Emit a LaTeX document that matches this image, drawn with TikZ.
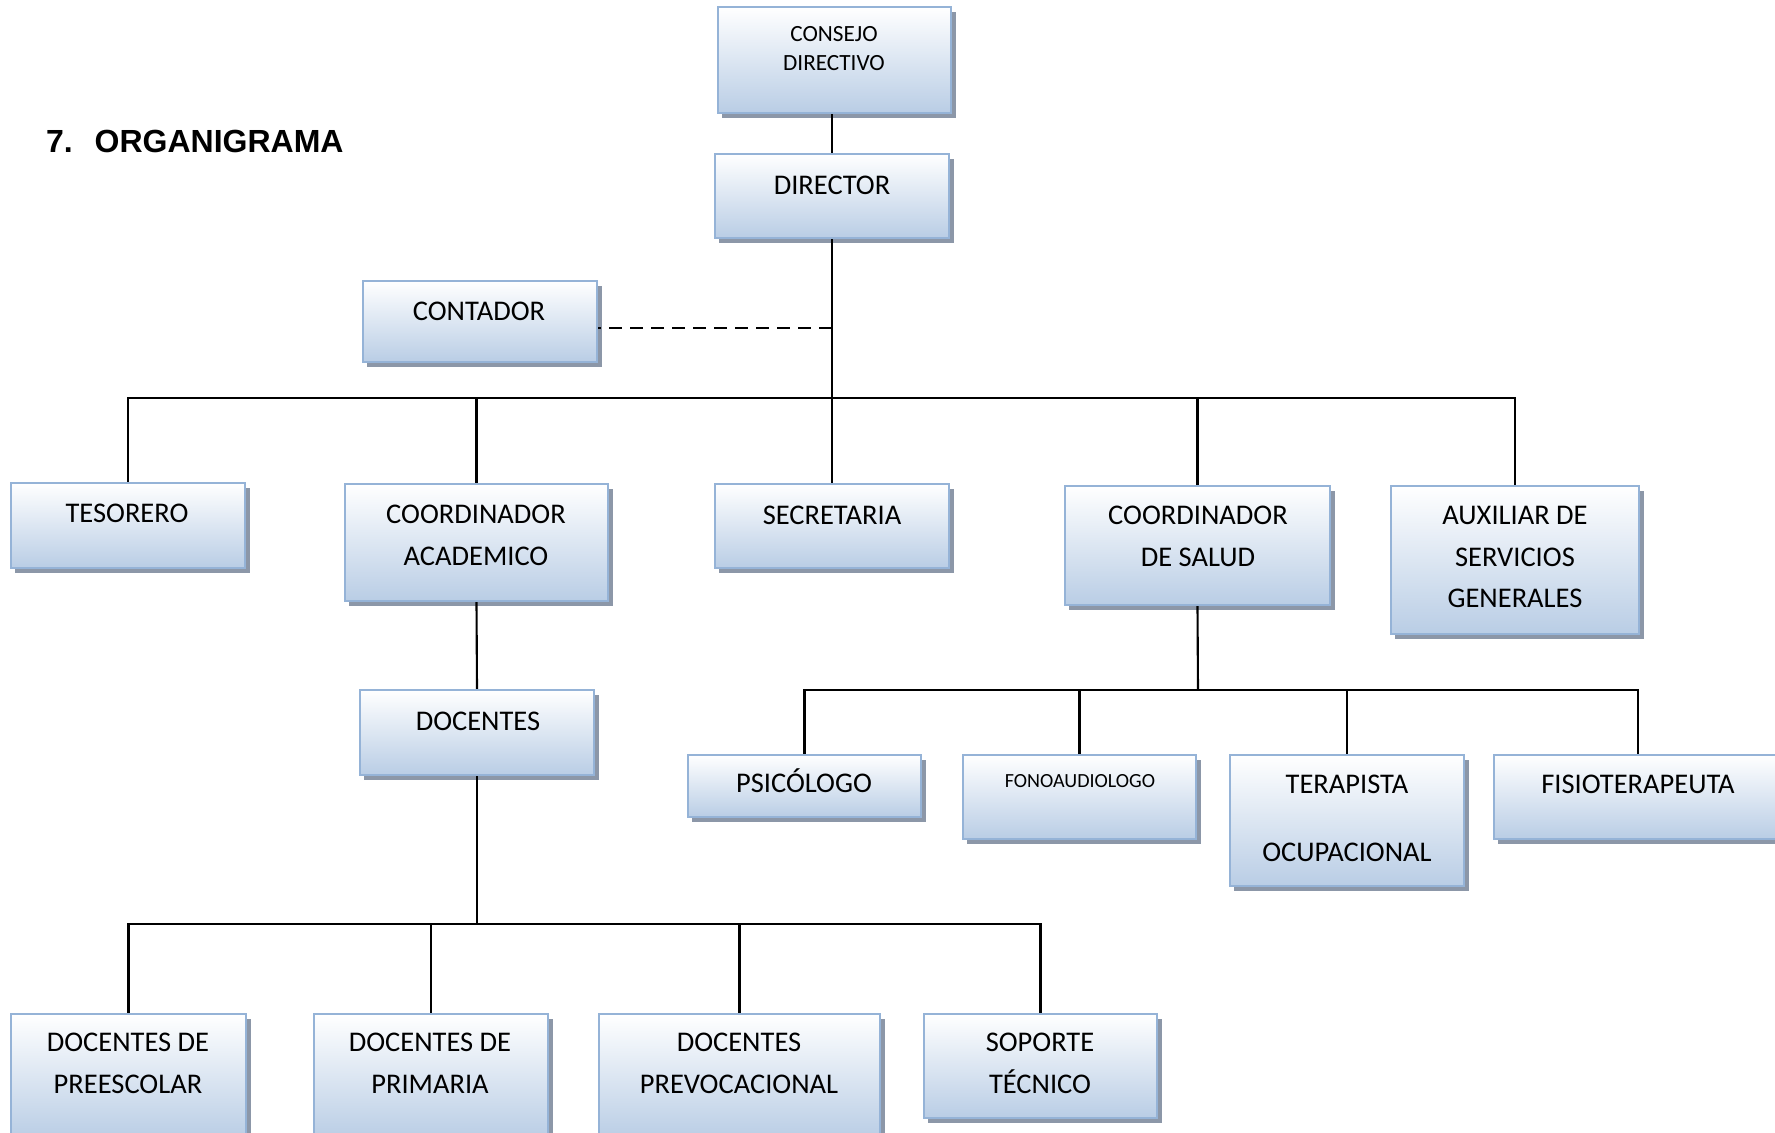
\documentclass[tikz,border=0pt]{standalone}
\usepackage{fontspec}
\setmainfont{Carlito}
\newfontfamily\arialfont{Liberation Sans}
\usetikzlibrary{shadows}
\definecolor{bordeazul}{RGB}{149,179,215}
\definecolor{fondoazul}{RGB}{185,205,229}
\definecolor{sombraazul}{RGB}{140,151,168}

\begin{document}
\begin{tikzpicture}[
  x=0.01cm,y=-0.01cm,line width=0.6pt,
  cargo/.style={rectangle,draw=bordeazul,line width=0.65pt,top color=white,bottom color=fondoazul,inner sep=0pt,drop shadow={shadow xshift=0.045cm,shadow yshift=-0.05cm,fill=sombraazul,opacity=1}},
  rotulo/.style={inner sep=0pt,align=center,font=\fontsize{8.1}{11.9}\selectfont},
  rotulochico/.style={inner sep=0pt,align=center,font=\fontsize{6.6}{8.2}\selectfont},
  titulo/.style={inner sep=0pt,anchor=west,font=\arialfont\bfseries\fontsize{9.1}{11}\selectfont}
]
  \useasboundingbox (0,0) rectangle (1775,1133);
  \clip (0,0) rectangle (1775,1133);
  \node[titulo] (titulo) at (45,141) {7.\hspace{0.22cm}ORGANIGRAMA};
  \node[cargo,minimum width=2.33cm,minimum height=1.06cm] (consejo) at (834.5,60) {};
  \node[cargo,minimum width=2.34cm,minimum height=0.84cm] (director) at (832,196) {};
  \node[cargo,minimum width=2.34cm,minimum height=0.81cm] (contador) at (480,321.5) {};
  \node[cargo,minimum width=2.34cm,minimum height=0.85cm] (tesorero) at (128,525.5) {};
  \node[cargo,minimum width=2.63cm,minimum height=1.17cm] (academico) at (476.5,542.5) {};
  \node[cargo,minimum width=2.34cm,minimum height=0.84cm] (secretaria) at (832,526) {};
  \node[cargo,minimum width=2.65cm,minimum height=1.19cm] (salud) at (1197.5,545.5) {};
  \node[cargo,minimum width=2.48cm,minimum height=1.48cm] (auxiliar) at (1515,560) {};
  \node[cargo,minimum width=2.34cm,minimum height=0.85cm] (docentes) at (477,732.5) {};
  \node[cargo,minimum width=2.33cm,minimum height=0.62cm] (psicologo) at (804.5,786) {};
  \node[cargo,minimum width=2.33cm,minimum height=0.84cm] (fono) at (1079.5,797) {};
  \node[cargo,minimum width=2.34cm,minimum height=1.31cm] (terapista) at (1347,820.5) {};
  \node[cargo,minimum width=2.88cm,minimum height=0.84cm] (fisio) at (1638,797) {};
  \node[cargo,minimum width=2.35cm,minimum height=1.25cm] (preescolar) at (128.5,1076.5) {};
  \node[cargo,minimum width=2.34cm,minimum height=1.25cm] (primaria) at (431,1076.5) {};
  \node[cargo,minimum width=2.81cm,minimum height=1.25cm] (prevoc) at (739.5,1076.5) {};
  \node[cargo,minimum width=2.33cm,minimum height=1.04cm] (soporte) at (1040.5,1066) {};
  \node[rotulochico] (consejo-t) at (834,48.5) {CONSEJO\\DIRECTIVO};
  \node[rotulo] (director-t) at (832,185) {DIRECTOR};
  \node[rotulo] (contador-t) at (479,311) {CONTADOR};
  \node[rotulo] (tesorero-t) at (127,513) {TESORERO};
  \node[rotulo] (academico-t) at (476,535) {COORDINADOR\\ACADEMICO};
  \node[rotulo] (secretaria-t) at (832,515) {SECRETARIA};
  \node[rotulo] (salud-t) at (1198,536) {COORDINADOR\\DE SALUD};
  \node[rotulo] (auxiliar-t) at (1515,557) {AUXILIAR DE\\SERVICIOS\\GENERALES};
  \node[rotulo] (docentes-t) at (478,721) {DOCENTES};
  \node[rotulo] (psicologo-t) at (804,781) {PSICÓLOGO};
  \node[inner sep=0pt,font=\fontsize{5.7}{7}\selectfont] (fono-t) at (1080,781) {FONOAUDIOLOGO};
  \node[rotulo] (terapista-t) at (1347,818) {TERAPISTA\\[7.4pt]OCUPACIONAL};
  \node[rotulo] (fisio-t) at (1638,784) {FISIOTERAPEUTA};
  \node[rotulo] (preescolar-t) at (128,1063.5) {DOCENTES DE\\PREESCOLAR};
  \node[rotulo] (primaria-t) at (430,1063.5) {DOCENTES DE\\PRIMARIA};
  \node[rotulo] (prevoc-t) at (739,1063.5) {DOCENTES\\PREVOCACIONAL};
  \node[rotulo] (soporte-t) at (1040,1063.5) {SOPORTE\\TÉCNICO};
  \coordinate (bus) at (832,398);
  \coordinate (contacto) at (832,328);
  \coordinate (busdoc) at (477,924);
  \coordinate (bussalud) at (1198,690);
  \draw (director.north) -- (director.north |- consejo.south);
  \draw (director.south) -- (secretaria.north);
  \draw[dash pattern=on 0.13cm off 0.08cm] (contacto) -- (contacto -| contador.east);
  \draw (tesorero.north) |- (bus) -| (auxiliar.north);
  \draw (academico.north) -- (academico.north |- bus);
  \draw (salud.north) -- (salud.north |- bus);
  \draw (academico.south) -- (docentes.north);
  \draw (docentes.south) -- (busdoc);
  \draw (preescolar.north) |- (busdoc) -| (soporte.north);
  \draw (primaria.north) -- (primaria.north |- busdoc);
  \draw (prevoc.north) -- (prevoc.north |- busdoc);
  \draw (salud.south) -- (bussalud);
  \draw (psicologo.north) |- (bussalud) -| (fisio.north);
  \draw (fono.north) -- (fono.north |- bussalud);
  \draw (terapista.north) -- (terapista.north |- bussalud);
\end{tikzpicture}
\end{document}
